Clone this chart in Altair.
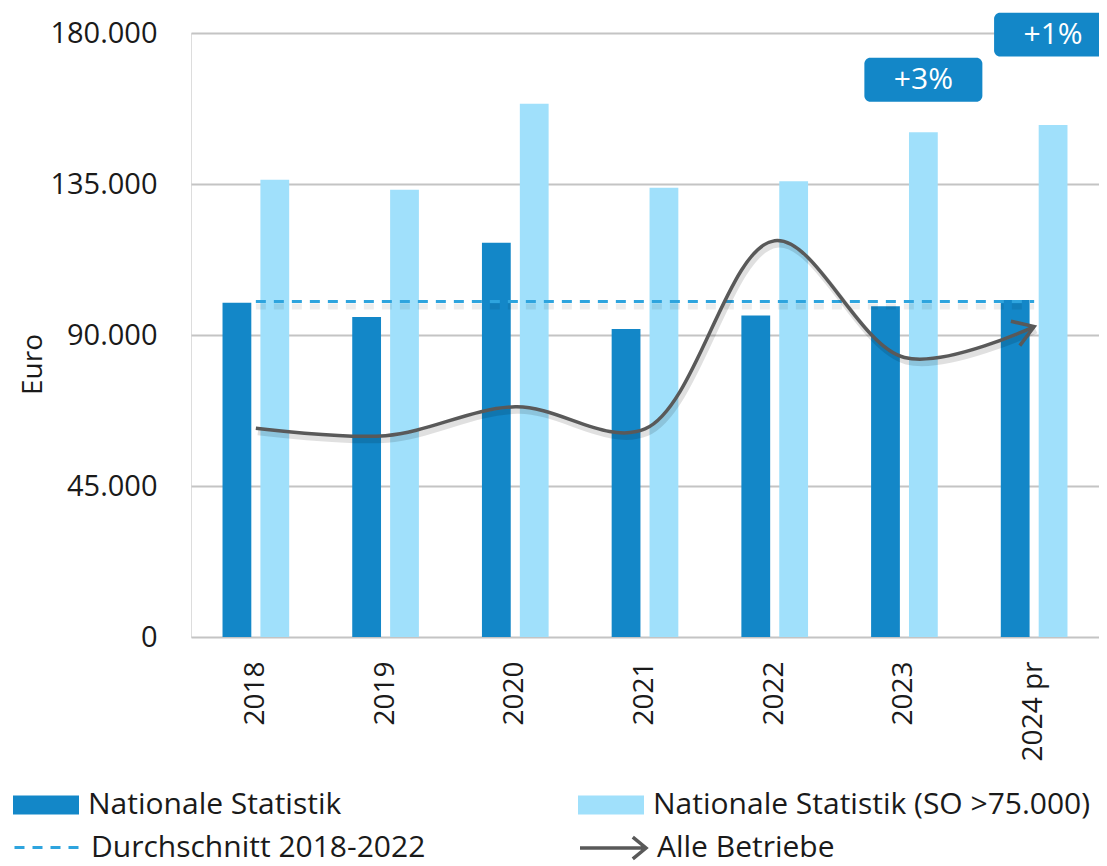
import altair as alt
import pandas as pd

# ---- data ----
years = ["2018", "2019", "2020", "2021", "2022", "2023", "2024 pr"]
nat = [99600, 95400, 117500, 91800, 95800, 98600, 100400]
nat_so = [136300, 133300, 158900, 133900, 135800, 150400, 152600]
alle = [62200, 60000, 68600, 62000, 118100, 83300, 92500]
avg_2018_2022 = 100000

anno_years = ["2023", "2024 pr"]
anno_text = ["+3%", "+1%"]
anno_lo = [159500, 173000]
anno_hi = [172600, 186000]

NAT = "Nationale Statistik"
SO = "Nationale Statistik (SO >75.000)"
AVG = "Durchschnitt 2018-2022"
ALLE = "Alle Betriebe"

DARK = "#1387c8"
LIGHT = "#a0e0fb"
DASH = "#2ea4de"
GREY = "#595959"
FONT = "Open Sans"

dark_df = pd.DataFrame({"year": years, "value": nat, "serie": NAT})
light_df = pd.DataFrame({"year": years, "value": nat_so, "serie": SO})
avg_df = pd.DataFrame({"year": years, "value": [avg_2018_2022] * len(years), "serie": AVG})
alle_df = pd.DataFrame({"year": years, "value": alle, "serie": ALLE})
anno_df = pd.DataFrame({
    "year": anno_years,
    "label": anno_text,
    "value": anno_lo,
    "hi": anno_hi,
    "serie": SO,
})
anno_df["mid"] = (anno_df["value"] + anno_df["hi"]) / 2

# ---- shared encodings ----
x_enc = alt.X(
    "year:N",
    sort=years,
    scale=alt.Scale(domain=years, paddingInner=0.486, paddingOuter=0.243),
    axis=alt.Axis(
        title=None, labelAngle=270, labelFont=FONT, labelFontSize=28,
        labelColor="#1a1a1a", ticks=False, domain=False, labelPadding=24,
        grid=False,
    ),
)
y_axis = alt.Axis(
    values=[0, 45000, 90000, 135000, 180000],
    labelExpr="replace(format(datum.value, ',d'), ',', '.')",
    title="Euro", titleFont=FONT, titleFontSize=28, titleFontWeight="normal",
    titleColor="#1a1a1a", titleX=-158, titleY=331, titleAngle=270,
    titleAlign="center", titleBaseline="middle",
    grid=True, gridColor="#c4c4c4", gridWidth=2,
    domain=False, ticks=False, labelPadding=34,
    labelFont=FONT, labelFontSize=29, labelColor="#1a1a1a",
)
y_scale = alt.Scale(domain=[0, 180000], nice=False, zero=True)
y_enc = alt.Y("value:Q", scale=y_scale, axis=y_axis)
xoff = alt.XOffset("serie:N", sort=[NAT, SO],
                   scale=alt.Scale(domain=[NAT, SO], paddingInner=0.24))

leg_common = dict(
    orient="none", title=None, labelFont=FONT, labelFontSize=30,
    labelColor="#1a1a1a", labelOffset=9, symbolSize=4356, padding=0,
    labelLimit=700,
)

# ---- layers ----
dark_bars = alt.Chart(dark_df).mark_bar().encode(
    x=x_enc, xOffset=xoff, y=y_enc,
    color=alt.Color("serie:N", scale=alt.Scale(domain=[NAT], range=[DARK]),
                    legend=alt.Legend(legendX=-178, legendY=739,
                                      symbolType="M-1,-0.29H1V0.29H-1Z",
                                      symbolStrokeWidth=0, **leg_common)),
)
light_bars = alt.Chart(light_df).mark_bar().encode(
    x=x_enc, xOffset=xoff, y=y_enc,
    color=alt.Color("serie:N", scale=alt.Scale(domain=[SO], range=[LIGHT]),
                    legend=alt.Legend(legendX=387, legendY=739,
                                      symbolType="M-1,-0.29H1V0.29H-1Z",
                                      symbolStrokeWidth=0, **leg_common)),
)
avg_shadow = alt.Chart(avg_df).mark_line(
    color="#000000", opacity=0.07, strokeWidth=6, yOffset=5, strokeDash=[10, 8]
).encode(x=x_enc, y=y_enc)
avg_line = alt.Chart(avg_df).mark_line(strokeWidth=3, strokeDash=[10, 8]).encode(
    x=x_enc, y=y_enc,
    color=alt.Color("serie:N", scale=alt.Scale(domain=[AVG], range=[DASH]),
                    legend=alt.Legend(legendX=-178, legendY=780,
                                      symbolType="stroke", symbolDash=[10, 8],
                                      symbolStrokeWidth=3, **leg_common)),
)
alle_shadow = alt.Chart(alle_df).mark_line(
    interpolate="catmull-rom", color="#000000", opacity=0.12, strokeWidth=6,
    yOffset=4, xOffset=2,
).encode(x=x_enc, y=y_enc)
alle_line = alt.Chart(alle_df).mark_line(interpolate="catmull-rom", strokeWidth=3.5).encode(
    x=x_enc, y=y_enc,
    color=alt.Color("serie:N", scale=alt.Scale(domain=[ALLE], range=[GREY]),
                    legend=alt.Legend(legendX=387, legendY=780,
                                      symbolType="M-1,0H0.96M0.6,-0.33L1,0L0.6,0.33",
                                      symbolStrokeWidth=3.5, **leg_common)),
)
arrow_head = alt.Chart(alle_df).transform_filter(
    alt.datum.year == years[-1]
).mark_point(
    shape="M-1,-0.65L0,0L-1,0.65", filled=False, size=1600, strokeWidth=3.5,
    color=GREY, opacity=1, angle=340,
).encode(x=x_enc, y=y_enc)

boxes = alt.Chart(anno_df).mark_bar(width=118, cornerRadius=6, color=DARK).encode(
    x=x_enc, xOffset=xoff, y=y_enc, y2="hi:Q",
)
box_text = alt.Chart(anno_df).mark_text(
    color="white", font=FONT, fontSize=30, baseline="middle", align="center"
).encode(
    x=x_enc, xOffset=xoff,
    y=alt.Y("mid:Q", scale=y_scale, axis=y_axis),
    text="label:N",
)

chart = alt.layer(
    dark_bars, light_bars, avg_shadow, avg_line, alle_shadow, alle_line,
    arrow_head, boxes, box_text,
).resolve_scale(color="independent").properties(
    width=908, height=604,
    autosize=alt.AutoSizeParams(type="none"),
    padding={"left": 183, "top": 25, "right": 0, "bottom": 229},
).configure_view(stroke=None).configure(font=FONT)

chart.save("out.html", embed_options={"renderer": "svg", "actions": False})
